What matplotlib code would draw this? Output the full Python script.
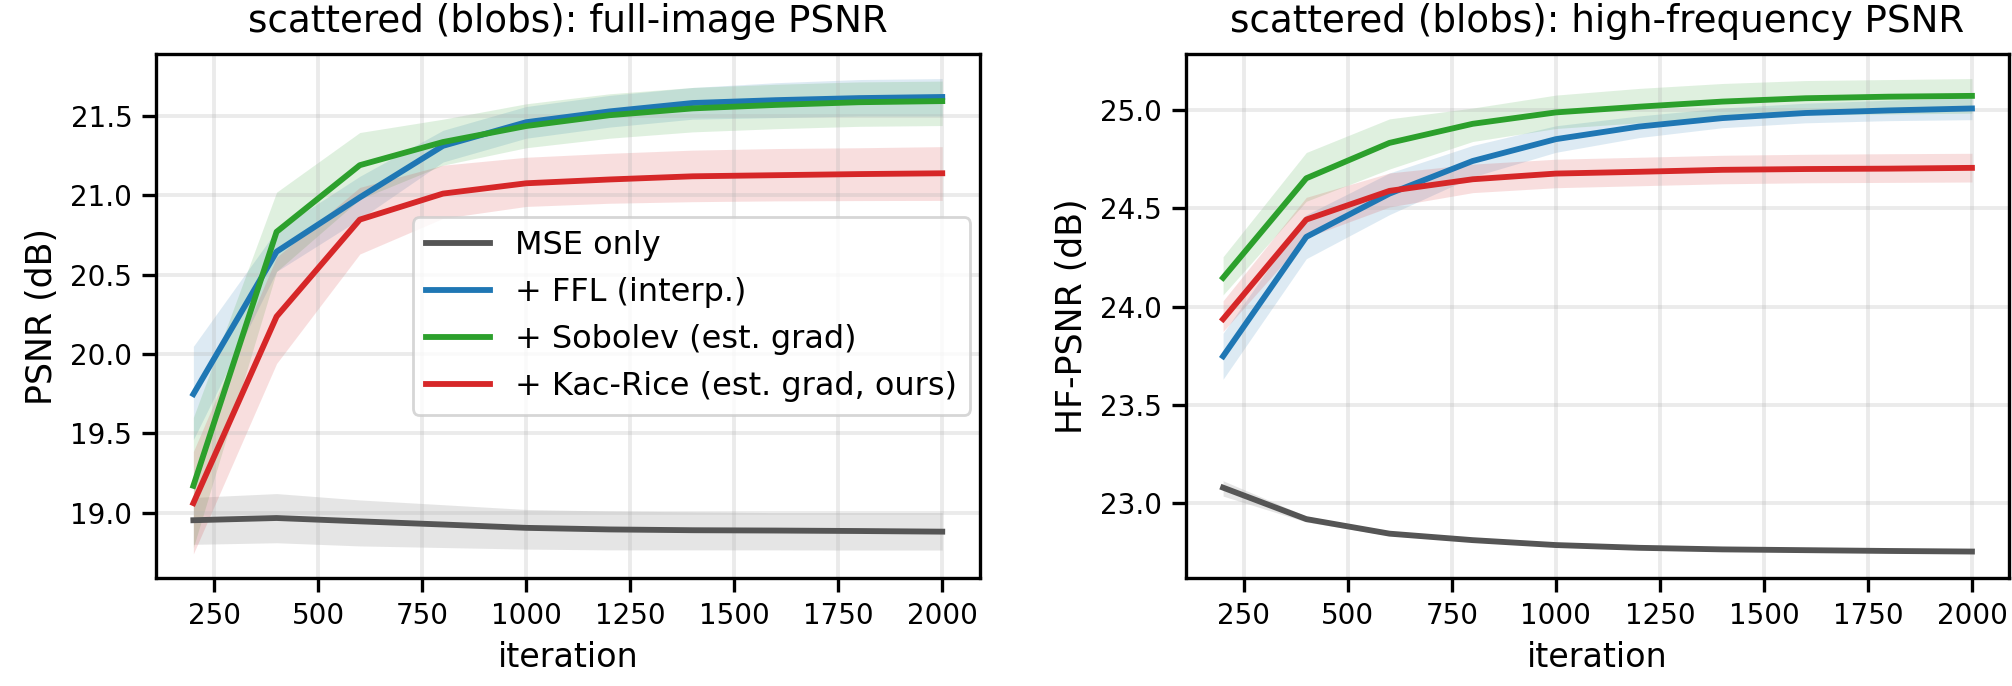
import numpy as np
import matplotlib
matplotlib.use('Agg')
import matplotlib.pyplot as plt

# iterations (shared x axis)
iters = [200, 400, 600, 800, 1000, 1200, 1400, 1600, 1800, 2000]

labels = ['MSE only', '+ FFL (interp.)', '+ Sobolev (est. grad)', '+ Kac-Rice (est. grad, ours)']
colors = ['#555555', 'tab:blue', 'tab:green', 'tab:red']

# full-image PSNR: mean, lower band, upper band
psnr_mse = [18.952, 18.966, 18.945, 18.925, 18.904, 18.894, 18.889, 18.887, 18.884, 18.880]
psnr_mse_lo = [18.80, 18.81, 18.79, 18.78, 18.77, 18.765, 18.765, 18.765, 18.764, 18.764]
psnr_mse_hi = [19.096, 19.12, 19.08, 19.05, 19.02, 19.01, 19.005, 19.0, 19.0, 19.0]

psnr_ffl = [19.747, 20.645, 20.987, 21.312, 21.461, 21.529, 21.582, 21.600, 21.613, 21.620]
psnr_ffl_lo = [19.46, 20.52, 20.85, 21.21, 21.36, 21.43, 21.48, 21.49, 21.50, 21.50]
psnr_ffl_hi = [20.048, 20.78, 21.12, 21.41, 21.56, 21.63, 21.68, 21.71, 21.73, 21.736]

psnr_sob = [19.169, 20.770, 21.190, 21.336, 21.437, 21.505, 21.548, 21.570, 21.587, 21.594]
psnr_sob_lo = [18.78, 20.52, 20.975, 21.19, 21.30, 21.36, 21.40, 21.42, 21.435, 21.44]
psnr_sob_hi = [19.60, 21.02, 21.396, 21.48, 21.577, 21.64, 21.68, 21.70, 21.715, 21.72]

psnr_kr = [19.060, 20.236, 20.847, 21.011, 21.076, 21.100, 21.120, 21.127, 21.134, 21.139]
psnr_kr_lo = [18.74, 19.94, 20.63, 20.855, 20.93, 20.95, 20.96, 20.965, 20.967, 20.968]
psnr_kr_hi = [19.385, 20.61, 21.05, 21.19, 21.24, 21.265, 21.285, 21.295, 21.30, 21.307]

# high-frequency PSNR: mean, lower band, upper band
hf_mse = [23.080, 22.920, 22.846, 22.813, 22.788, 22.774, 22.766, 22.762, 22.758, 22.755]
hf_mse_lo = [23.037, 22.905, 22.836, 22.805, 22.781, 22.768, 22.760, 22.757, 22.753, 22.750]
hf_mse_hi = [23.115, 22.935, 22.856, 22.821, 22.795, 22.780, 22.772, 22.767, 22.763, 22.760]

hf_ffl = [23.748, 24.355, 24.575, 24.741, 24.852, 24.916, 24.959, 24.985, 24.998, 25.008]
hf_ffl_lo = [23.631, 24.244, 24.468, 24.66, 24.785, 24.86, 24.91, 24.935, 24.946, 24.951]
hf_ffl_hi = [23.865, 24.468, 24.68, 24.82, 24.92, 24.97, 25.01, 25.035, 25.05, 25.062]

hf_sob = [24.147, 24.653, 24.833, 24.930, 24.988, 25.017, 25.043, 25.060, 25.068, 25.072]
hf_sob_lo = [24.06, 24.536, 24.70, 24.84, 24.906, 24.935, 24.96, 24.975, 24.98, 24.984]
hf_sob_hi = [24.254, 24.784, 24.955, 25.01, 25.076, 25.11, 25.135, 25.15, 25.155, 25.16]

hf_kr = [23.937, 24.443, 24.589, 24.648, 24.677, 24.686, 24.696, 24.700, 24.702, 24.706]
hf_kr_lo = [23.874, 24.351, 24.507, 24.58, 24.605, 24.615, 24.625, 24.63, 24.632, 24.634]
hf_kr_hi = [24.03, 24.556, 24.68, 24.725, 24.75, 24.76, 24.77, 24.775, 24.778, 24.78]

panels = [
    ('scattered (blobs): full-image PSNR', 'PSNR (dB)',
     [(psnr_mse, psnr_mse_lo, psnr_mse_hi), (psnr_ffl, psnr_ffl_lo, psnr_ffl_hi),
      (psnr_sob, psnr_sob_lo, psnr_sob_hi), (psnr_kr, psnr_kr_lo, psnr_kr_hi)],
     (18.586, 21.891)),
    ('scattered (blobs): high-frequency PSNR', 'HF-PSNR (dB)',
     [(hf_mse, hf_mse_lo, hf_mse_hi), (hf_ffl, hf_ffl_lo, hf_ffl_hi),
      (hf_sob, hf_sob_lo, hf_sob_hi), (hf_kr, hf_kr_lo, hf_kr_hi)],
     (22.619, 25.285)),
]

fig, axes = plt.subplots(1, 2, figsize=(10.06, 3.43), dpi=200)
plt.subplots_adjust(left=0.0775, right=0.9987, bottom=0.157, top=0.9213, wspace=0.25)

for ax, (title, ylabel, series, ylim) in zip(axes, panels):
    for (mean, lo, hi), lab, col in zip(series, labels, colors):
        ax.fill_between(iters, lo, hi, color=col, alpha=0.15, linewidth=0)
        ax.plot(iters, mean, color=col, lw=2.1, label=lab)
    ax.set_title(title, fontsize=13.4, pad=8)
    ax.set_xlabel('iteration', fontsize=12)
    ax.set_ylabel(ylabel, fontsize=12.5)
    ax.set_ylim(*ylim)
    ax.set_xticks([250, 500, 750, 1000, 1250, 1500, 1750, 2000])
    ax.tick_params(labelsize=10, length=5.0, width=1.2)
    ax.grid(True, color='#b0b0b0', alpha=0.25, lw=1.4)
    for s in ax.spines.values():
        s.set_linewidth(1.2)

axes[0].legend(loc='center right', fontsize=11.5, borderaxespad=0.3)

plt.savefig('out.png', dpi=200)
